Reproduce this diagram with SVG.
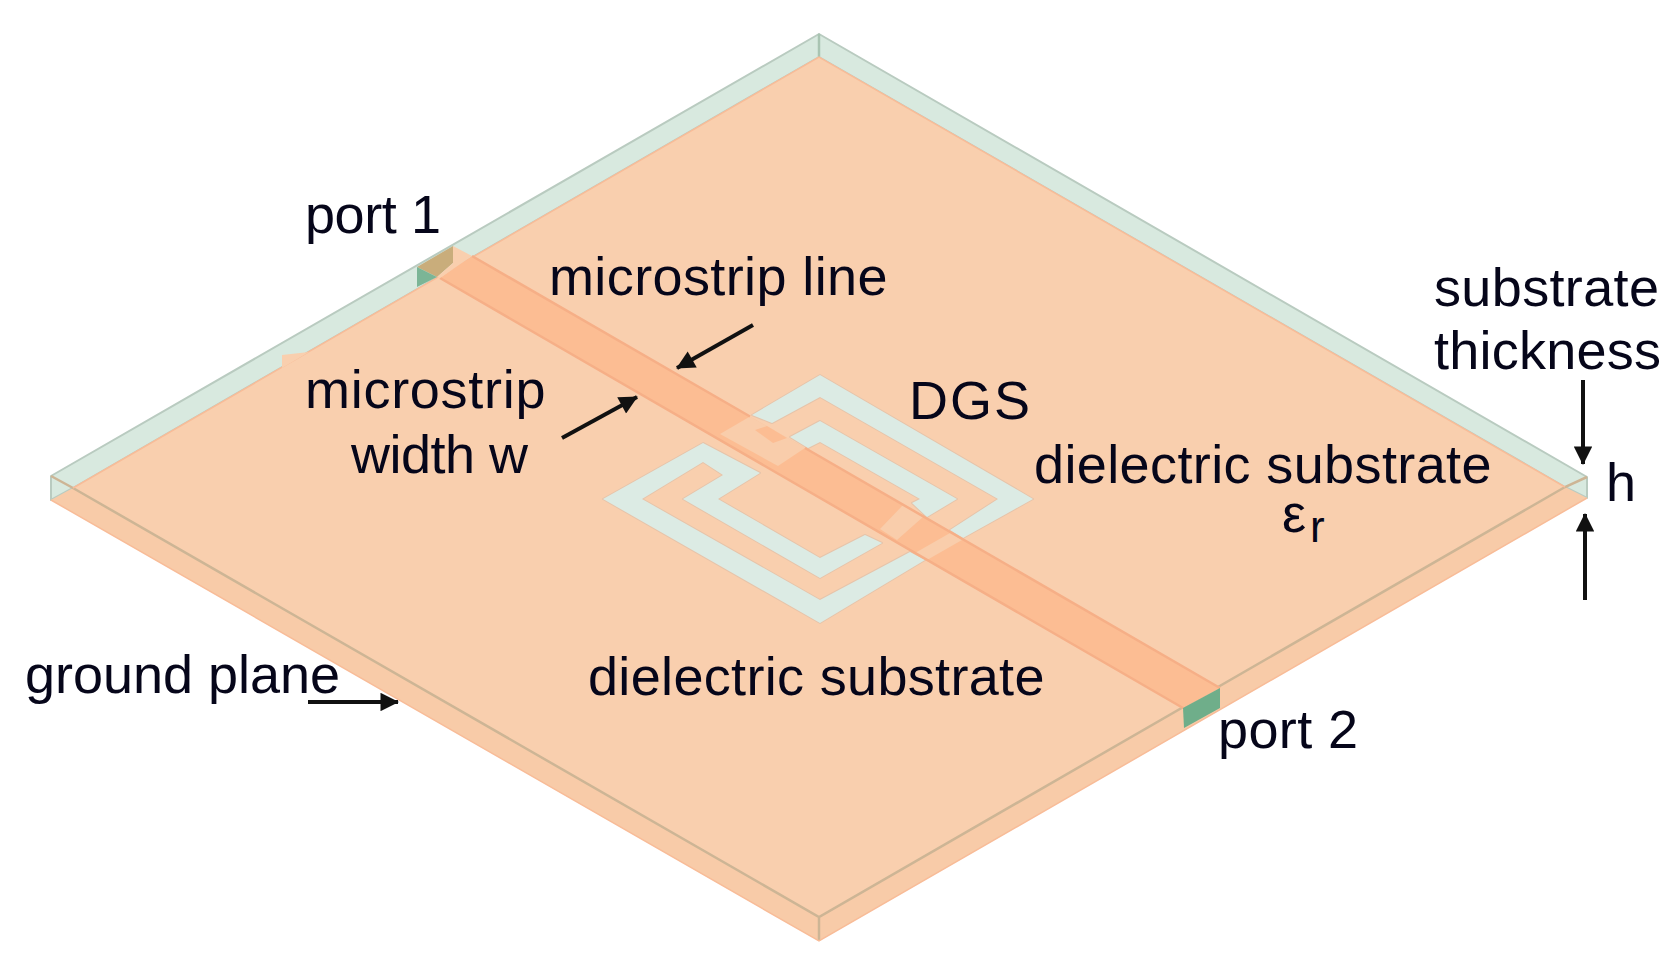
<svg xmlns="http://www.w3.org/2000/svg" width="1679" height="964" viewBox="0 0 1679 964">
<style>
text{font-family:"Liberation Sans",Arial,sans-serif;font-size:54px;fill:#06061a}
.back{fill:#d8e9df;stroke:#b9cbc0;stroke-width:2;stroke-linejoin:round}
.side{fill:#f8cba8}
.edge{fill:none;stroke:#cdb595;stroke-width:2.5}
.glow{fill:none;stroke:#f8bc98;stroke-width:1.5}
.top{fill:#f9cfae}
.slot{fill:#dcebe4;stroke:#e6c4aa;stroke-width:2;stroke-linejoin:round;paint-order:stroke}
.strip{fill:#fcbd93}
.stripedge{stroke:#f6af87;stroke-width:2.5;fill:none}
.gap{fill:#f9cdab}
.arrow{fill:none;stroke:#111;stroke-width:4}
</style>
<defs>
<marker id="head" viewBox="0 0 10 10" refX="9.5" refY="5" markerWidth="5" markerHeight="4.6" markerUnits="strokeWidth" orient="auto">
<path d="M0 0L10 5L0 10Z" fill="#111"/>
</marker>
</defs>
<g id="substrate">
<path class="back" d="M51 476L819 34L819 57L73 488L51 500Z"/>
<path class="back" d="M819 34L1587 477L1587 498L1565 487L819 57Z"/>
<path class="side" d="M51 500L73 488L819 917L1565 487L1587 498L819 941Z"/>
<path class="top" d="M819 57L1565 487L819 917L73 488Z"/>
<path class="edge" d="M51 476L73 488L819 917L1565 487L1587 477M819 917V941"/>
<path class="edge" d="M819 34V57" style="stroke:#a9c4b2"/>
<path class="glow" d="M51 500L819 941L1587 498M73 488L819 57L1565 487"/>
<path class="top" d="M282 355L309 352L282 368Z"/>
</g>
<g id="dgs">
<path class="slot" d="M752 415L820 375L1033 499L963 538L950 530L998 499L820 397L772 423Z"/>
<path class="slot" d="M790 437L820 421L957 499L927 517L912 503L920 499L820 442L808 448Z"/>
<path class="slot" d="M603 499L703 443L760 473L718 499L820 558L865 535L882 543L820 578L683 499L723 475L703 462L642 499L820 600L910 552L925 560L820 623Z"/>
</g>
<g id="microstrip">
<path class="strip" d="M440 278L472 256L1220 688L1183 708Z"/>
<path class="gap" d="M720 434L750 416.500L805 448L778 466Z"/>
<path class="strip" d="M755 430L767 426L787 438L773 443Z"/>
<path class="gap" d="M880 529L903 505L923 517L897 540Z"/>
<path class="gap" d="M915 553L950 533L962 540L927 560Z"/>
<path class="stripedge" d="M472 256L750 416.500M805 448L1220 688M440 278L1183 708"/>
</g>
<g id="port-1">
<path fill="#c9ad7b" d="M417 267L453 246L453 263L437 277Z"/>
<path fill="#7bb596" d="M417 267L437 277L417 287Z"/>
<path fill="#f9cfae" d="M453 246L472 256L440 278L437 277L453 263Z"/>
</g>
<g id="port-2">
<path fill="#6fae8a" d="M1183 708L1220 688V708L1184 728Z"/>
</g>
<g id="connectors">
<line class="arrow" x1="753" y1="325" x2="677" y2="368" marker-end="url(#head)"/>
<line class="arrow" x1="562" y1="438" x2="637" y2="397" marker-end="url(#head)"/>
<line class="arrow" x1="308" y1="702" x2="398" y2="702" marker-end="url(#head)"/>
<line class="arrow" x1="1583" y1="380" x2="1583" y2="464" marker-end="url(#head)"/>
<line class="arrow" x1="1585" y1="600" x2="1585" y2="514" marker-end="url(#head)"/>
</g>
<g id="labels">
<text x="305" y="233" textLength="136">port 1</text>
<text x="549" y="295" textLength="338.500">microstrip line</text>
<text x="305" y="408" textLength="240.500">microstrip</text>
<text x="351" y="473" textLength="177">width w</text>
<text x="909" y="419" textLength="121">DGS</text>
<text x="1034" y="483" textLength="457.500">dielectric substrate</text>
<text x="1282" y="532">ε</text>
<text x="1310" y="542" style="font-size:44px">r</text>
<text x="1434" y="306" textLength="225">substrate</text>
<text x="1434" y="369" textLength="227">thickness</text>
<text x="1606" y="501">h</text>
<text x="25" y="693" textLength="315">ground plane</text>
<text x="588" y="695" textLength="456.500">dielectric substrate</text>
<text x="1218" y="748" textLength="140">port 2</text>
</g>
</svg>
